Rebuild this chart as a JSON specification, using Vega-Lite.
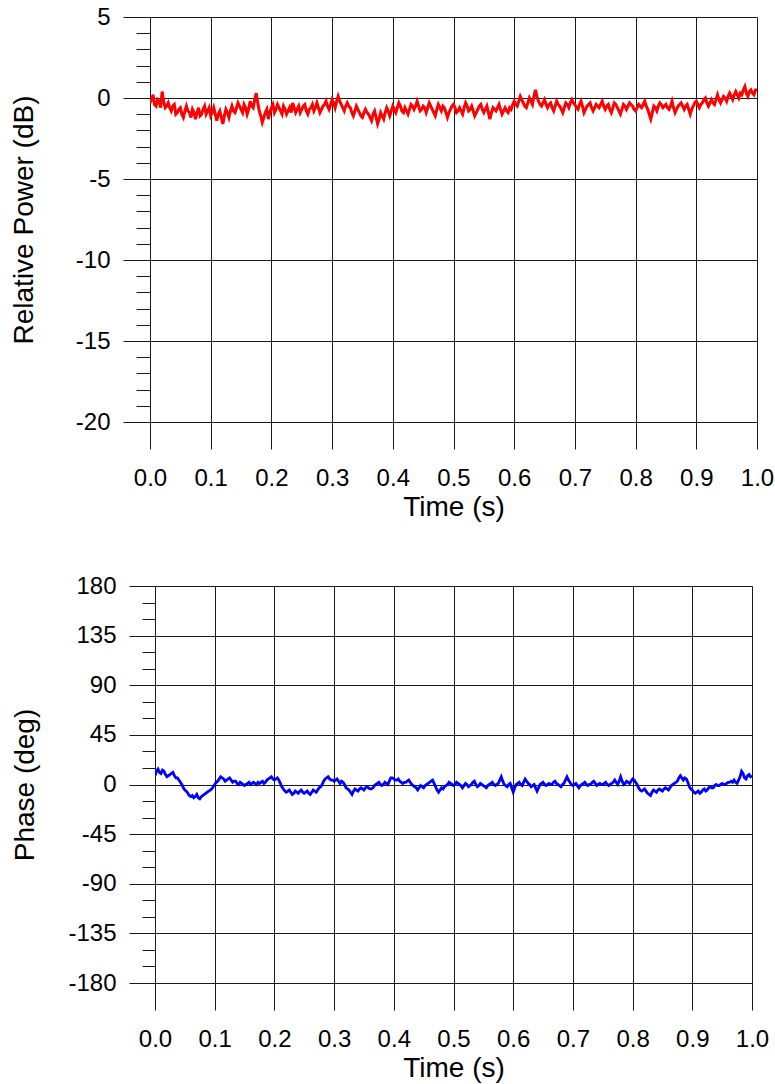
{
  "$schema": "https://vega.github.io/schema/vega-lite/v6.json",
  "padding": {"left": 10, "top": 5, "right": 0, "bottom": 5},
  "background": "white",
  "config": {
    "view": {"stroke": null},
    "font": "Liberation Sans",
    "axis": {
      "labelFont": "Liberation Sans",
      "titleFont": "Liberation Sans",
      "labelFontSize": 24,
      "titleFontSize": 28,
      "titleFontWeight": "normal",
      "labelColor": "#000000",
      "titleColor": "#000000",
      "domain": false,
      "grid": true,
      "gridColor": "#1a1a1a",
      "gridWidth": 1,
      "tickColor": "#1a1a1a",
      "tickWidth": 1,
      "labelOverlap": false,
      "labelFlush": false
    },
    "axisX": {"tickSize": 27, "labelPadding": 17, "titlePadding": 3},
    "axisY": {"labelPadding": 13}
  },
  "data": {
    "values": [
      {"t": 0, "db": -0.3, "deg": 8},
      {"t": 0.0025, "db": -0.1, "deg": 12},
      {"t": 0.005, "db": 0.2, "deg": 14},
      {"t": 0.0075, "db": -0.4, "deg": 11},
      {"t": 0.01, "db": -0.5, "deg": 10},
      {"t": 0.0125, "db": -0.1, "deg": 13},
      {"t": 0.015, "db": -0.2, "deg": 12},
      {"t": 0.0175, "db": -0.6, "deg": 9},
      {"t": 0.02, "db": 0.4, "deg": 7},
      {"t": 0.0225, "db": -0.2, "deg": 8},
      {"t": 0.025, "db": -0.6, "deg": 9},
      {"t": 0.0275, "db": -0.5, "deg": 10},
      {"t": 0.03, "db": -0.3, "deg": 11},
      {"t": 0.0325, "db": -0.6, "deg": 8},
      {"t": 0.035, "db": -0.8, "deg": 6},
      {"t": 0.0375, "db": -0.5, "deg": 6},
      {"t": 0.04, "db": -0.4, "deg": 4},
      {"t": 0.0425, "db": -1.0, "deg": 2},
      {"t": 0.045, "db": -0.9, "deg": 0},
      {"t": 0.0475, "db": -0.7, "deg": -3},
      {"t": 0.05, "db": -0.6, "deg": -5},
      {"t": 0.0525, "db": -1.0, "deg": -6},
      {"t": 0.055, "db": -1.2, "deg": -8},
      {"t": 0.0575, "db": -0.8, "deg": -10},
      {"t": 0.06, "db": -0.5, "deg": -11},
      {"t": 0.0625, "db": -0.8, "deg": -10},
      {"t": 0.065, "db": -0.9, "deg": -12},
      {"t": 0.0675, "db": -1.2, "deg": -11},
      {"t": 0.07, "db": -0.7, "deg": -9},
      {"t": 0.0725, "db": -0.9, "deg": -12},
      {"t": 0.075, "db": -1.3, "deg": -13},
      {"t": 0.0775, "db": -0.9, "deg": -11},
      {"t": 0.08, "db": -0.6, "deg": -10},
      {"t": 0.0825, "db": -1.1, "deg": -9},
      {"t": 0.085, "db": -1.0, "deg": -8},
      {"t": 0.0875, "db": -0.7, "deg": -7},
      {"t": 0.09, "db": -0.5, "deg": -6},
      {"t": 0.0925, "db": -1.0, "deg": -5},
      {"t": 0.095, "db": -0.8, "deg": -4},
      {"t": 0.0975, "db": -0.6, "deg": -2},
      {"t": 0.1, "db": -1.1, "deg": 0},
      {"t": 0.1025, "db": -0.9, "deg": 2},
      {"t": 0.105, "db": -0.6, "deg": 3},
      {"t": 0.1075, "db": -1.0, "deg": 5},
      {"t": 0.11, "db": -1.4, "deg": 7},
      {"t": 0.1125, "db": -1.0, "deg": 6},
      {"t": 0.115, "db": -0.8, "deg": 5},
      {"t": 0.1175, "db": -1.2, "deg": 3},
      {"t": 0.12, "db": -1.6, "deg": 4},
      {"t": 0.1225, "db": -1.1, "deg": 5},
      {"t": 0.125, "db": -0.7, "deg": 6},
      {"t": 0.1275, "db": -0.9, "deg": 4},
      {"t": 0.13, "db": -1.2, "deg": 2},
      {"t": 0.1325, "db": -0.8, "deg": 3},
      {"t": 0.135, "db": -0.5, "deg": 3},
      {"t": 0.1375, "db": -0.8, "deg": 1},
      {"t": 0.14, "db": -0.9, "deg": 0},
      {"t": 0.1425, "db": -0.6, "deg": 2},
      {"t": 0.145, "db": -0.3, "deg": 1},
      {"t": 0.1475, "db": -0.5, "deg": 0},
      {"t": 0.15, "db": -0.7, "deg": -1},
      {"t": 0.1525, "db": -0.9, "deg": 0},
      {"t": 0.155, "db": -0.4, "deg": 1},
      {"t": 0.1575, "db": -0.6, "deg": 2},
      {"t": 0.16, "db": -1.0, "deg": 0},
      {"t": 0.1625, "db": -0.7, "deg": 1},
      {"t": 0.165, "db": -0.2, "deg": 2},
      {"t": 0.1675, "db": -0.5, "deg": 1},
      {"t": 0.17, "db": -0.6, "deg": 0},
      {"t": 0.1725, "db": -0.1, "deg": 2},
      {"t": 0.175, "db": 0.3, "deg": 1},
      {"t": 0.1775, "db": -0.3, "deg": 2},
      {"t": 0.18, "db": -0.8, "deg": 3},
      {"t": 0.1825, "db": -1.1, "deg": 1},
      {"t": 0.185, "db": -1.5, "deg": 2},
      {"t": 0.1875, "db": -1.2, "deg": 4},
      {"t": 0.19, "db": -0.9, "deg": 5},
      {"t": 0.1925, "db": -0.7, "deg": 6},
      {"t": 0.195, "db": -1.3, "deg": 7},
      {"t": 0.1975, "db": -0.9, "deg": 5},
      {"t": 0.2, "db": -0.6, "deg": 4},
      {"t": 0.2025, "db": -0.4, "deg": 5},
      {"t": 0.205, "db": -0.9, "deg": 6},
      {"t": 0.2075, "db": -0.7, "deg": 4},
      {"t": 0.21, "db": -0.4, "deg": 1},
      {"t": 0.2125, "db": -0.6, "deg": -2},
      {"t": 0.215, "db": -0.8, "deg": -4},
      {"t": 0.2175, "db": -1.0, "deg": -6},
      {"t": 0.22, "db": -0.5, "deg": -7},
      {"t": 0.2225, "db": -0.7, "deg": -6},
      {"t": 0.225, "db": -1.0, "deg": -5},
      {"t": 0.2275, "db": -0.8, "deg": -7},
      {"t": 0.23, "db": -0.6, "deg": -9},
      {"t": 0.2325, "db": -0.9, "deg": -8},
      {"t": 0.235, "db": -0.3, "deg": -6},
      {"t": 0.2375, "db": -0.6, "deg": -7},
      {"t": 0.24, "db": -0.9, "deg": -8},
      {"t": 0.2425, "db": -0.7, "deg": -6},
      {"t": 0.245, "db": -0.5, "deg": -5},
      {"t": 0.2475, "db": -0.9, "deg": -7},
      {"t": 0.25, "db": -0.7, "deg": -8},
      {"t": 0.2525, "db": -0.5, "deg": -7},
      {"t": 0.255, "db": -0.4, "deg": -6},
      {"t": 0.2575, "db": -0.8, "deg": -8},
      {"t": 0.26, "db": -1.0, "deg": -9},
      {"t": 0.2625, "db": -0.7, "deg": -7},
      {"t": 0.265, "db": -0.6, "deg": -5},
      {"t": 0.2675, "db": -0.4, "deg": -6},
      {"t": 0.27, "db": -0.8, "deg": -7},
      {"t": 0.2725, "db": -0.6, "deg": -5},
      {"t": 0.275, "db": -0.3, "deg": -3},
      {"t": 0.2775, "db": -0.6, "deg": -2},
      {"t": 0.28, "db": -0.9, "deg": 0},
      {"t": 0.2825, "db": -0.7, "deg": 3},
      {"t": 0.285, "db": -0.5, "deg": 5},
      {"t": 0.2875, "db": -0.4, "deg": 6},
      {"t": 0.29, "db": -0.2, "deg": 7},
      {"t": 0.2925, "db": -0.5, "deg": 5},
      {"t": 0.295, "db": -0.7, "deg": 4},
      {"t": 0.2975, "db": -0.4, "deg": 4},
      {"t": 0.3, "db": -0.1, "deg": 3},
      {"t": 0.3025, "db": -0.3, "deg": 4},
      {"t": 0.305, "db": -0.6, "deg": 5},
      {"t": 0.3075, "db": -0.2, "deg": 3},
      {"t": 0.31, "db": 0.1, "deg": 1},
      {"t": 0.3125, "db": -0.2, "deg": 3},
      {"t": 0.315, "db": -0.4, "deg": 2},
      {"t": 0.3175, "db": -0.6, "deg": 0},
      {"t": 0.32, "db": -0.8, "deg": -3},
      {"t": 0.3225, "db": -0.5, "deg": -4},
      {"t": 0.325, "db": -0.3, "deg": -5},
      {"t": 0.3275, "db": -0.5, "deg": -7},
      {"t": 0.33, "db": -0.6, "deg": -9},
      {"t": 0.3325, "db": -0.9, "deg": -6},
      {"t": 0.335, "db": -1.1, "deg": -4},
      {"t": 0.3375, "db": -0.8, "deg": -5},
      {"t": 0.34, "db": -0.5, "deg": -6},
      {"t": 0.3425, "db": -0.7, "deg": -4},
      {"t": 0.345, "db": -0.9, "deg": -3},
      {"t": 0.3475, "db": -1.1, "deg": -4},
      {"t": 0.35, "db": -1.2, "deg": -5},
      {"t": 0.3525, "db": -0.9, "deg": -3},
      {"t": 0.355, "db": -0.7, "deg": -2},
      {"t": 0.3575, "db": -0.9, "deg": -3},
      {"t": 0.36, "db": -1.0, "deg": -4},
      {"t": 0.3625, "db": -1.2, "deg": -4},
      {"t": 0.365, "db": -1.4, "deg": -3},
      {"t": 0.3675, "db": -1.0, "deg": -1},
      {"t": 0.37, "db": -0.8, "deg": 0},
      {"t": 0.3725, "db": -1.2, "deg": 1},
      {"t": 0.375, "db": -1.6, "deg": 2},
      {"t": 0.3775, "db": -1.3, "deg": 0},
      {"t": 0.38, "db": -0.9, "deg": -1},
      {"t": 0.3825, "db": -1.1, "deg": 0},
      {"t": 0.385, "db": -1.3, "deg": 2},
      {"t": 0.3875, "db": -0.9, "deg": 1},
      {"t": 0.39, "db": -0.6, "deg": 0},
      {"t": 0.3925, "db": -0.8, "deg": 3},
      {"t": 0.395, "db": -1.1, "deg": 6},
      {"t": 0.3975, "db": -0.8, "deg": 6},
      {"t": 0.4, "db": -0.5, "deg": 5},
      {"t": 0.4025, "db": -0.7, "deg": 4},
      {"t": 0.405, "db": -0.9, "deg": 4},
      {"t": 0.4075, "db": -0.6, "deg": 5},
      {"t": 0.41, "db": -0.3, "deg": 3},
      {"t": 0.4125, "db": -0.5, "deg": 2},
      {"t": 0.415, "db": -0.8, "deg": 1},
      {"t": 0.4175, "db": -0.9, "deg": 2},
      {"t": 0.42, "db": -0.6, "deg": 2},
      {"t": 0.4225, "db": -0.8, "deg": 3},
      {"t": 0.425, "db": -1.0, "deg": 4},
      {"t": 0.4275, "db": -0.7, "deg": 2},
      {"t": 0.43, "db": -0.4, "deg": 0},
      {"t": 0.4325, "db": -0.5, "deg": -1},
      {"t": 0.435, "db": -0.7, "deg": -2},
      {"t": 0.4375, "db": -0.5, "deg": -3},
      {"t": 0.44, "db": -0.2, "deg": -5},
      {"t": 0.4425, "db": -0.5, "deg": -3},
      {"t": 0.445, "db": -0.8, "deg": -1},
      {"t": 0.4475, "db": -0.7, "deg": -2},
      {"t": 0.45, "db": -0.5, "deg": -3},
      {"t": 0.4525, "db": -0.6, "deg": -1},
      {"t": 0.455, "db": -0.9, "deg": 0},
      {"t": 0.4575, "db": -0.6, "deg": 1},
      {"t": 0.46, "db": -0.3, "deg": 2},
      {"t": 0.4625, "db": -0.5, "deg": 3},
      {"t": 0.465, "db": -0.7, "deg": 4},
      {"t": 0.4675, "db": -0.9, "deg": 1},
      {"t": 0.47, "db": -1.1, "deg": -2},
      {"t": 0.4725, "db": -0.7, "deg": -5},
      {"t": 0.475, "db": -0.4, "deg": -7},
      {"t": 0.4775, "db": -0.6, "deg": -5},
      {"t": 0.48, "db": -0.8, "deg": -3},
      {"t": 0.4825, "db": -0.5, "deg": -4},
      {"t": 0.485, "db": -0.6, "deg": -2},
      {"t": 0.4875, "db": -0.9, "deg": -1},
      {"t": 0.49, "db": -1.2, "deg": 0},
      {"t": 0.4925, "db": -0.9, "deg": 2},
      {"t": 0.495, "db": -0.7, "deg": 1},
      {"t": 0.4975, "db": -0.5, "deg": 0},
      {"t": 0.5, "db": -0.4, "deg": -1},
      {"t": 0.5025, "db": -0.6, "deg": 0},
      {"t": 0.505, "db": -0.9, "deg": 2},
      {"t": 0.5075, "db": -0.8, "deg": 1},
      {"t": 0.51, "db": -0.6, "deg": 0},
      {"t": 0.5125, "db": -0.8, "deg": -1},
      {"t": 0.515, "db": -1.0, "deg": -3},
      {"t": 0.5175, "db": -0.6, "deg": -1},
      {"t": 0.52, "db": -0.3, "deg": 1},
      {"t": 0.5225, "db": -0.5, "deg": 0},
      {"t": 0.525, "db": -0.8, "deg": -2},
      {"t": 0.5275, "db": -0.7, "deg": -1},
      {"t": 0.53, "db": -0.5, "deg": 0},
      {"t": 0.5325, "db": -0.8, "deg": 2},
      {"t": 0.535, "db": -1.1, "deg": 3},
      {"t": 0.5375, "db": -0.9, "deg": 0},
      {"t": 0.54, "db": -0.7, "deg": -2},
      {"t": 0.5425, "db": -0.5, "deg": -1},
      {"t": 0.545, "db": -0.4, "deg": 1},
      {"t": 0.5475, "db": -0.7, "deg": 0},
      {"t": 0.55, "db": -0.9, "deg": -1},
      {"t": 0.5525, "db": -0.7, "deg": -2},
      {"t": 0.555, "db": -0.5, "deg": -3},
      {"t": 0.5575, "db": -0.9, "deg": -1},
      {"t": 0.56, "db": -1.3, "deg": 0},
      {"t": 0.5625, "db": -0.9, "deg": 1},
      {"t": 0.565, "db": -0.6, "deg": 2},
      {"t": 0.5675, "db": -0.7, "deg": 0},
      {"t": 0.57, "db": -0.8, "deg": -1},
      {"t": 0.5725, "db": -0.6, "deg": 0},
      {"t": 0.575, "db": -0.4, "deg": 1},
      {"t": 0.5775, "db": -0.7, "deg": 4},
      {"t": 0.58, "db": -1.0, "deg": 7},
      {"t": 0.5825, "db": -0.8, "deg": 3},
      {"t": 0.585, "db": -0.6, "deg": 0},
      {"t": 0.5875, "db": -0.8, "deg": -1},
      {"t": 0.59, "db": -0.9, "deg": -2},
      {"t": 0.5925, "db": -0.6, "deg": 0},
      {"t": 0.595, "db": -0.7, "deg": 1},
      {"t": 0.5975, "db": -0.4, "deg": -3},
      {"t": 0.6, "db": -0.2, "deg": -7},
      {"t": 0.6025, "db": -0.4, "deg": -3},
      {"t": 0.605, "db": -0.5, "deg": 0},
      {"t": 0.6075, "db": -0.2, "deg": 1},
      {"t": 0.61, "db": 0.1, "deg": 2},
      {"t": 0.6125, "db": -0.1, "deg": 0},
      {"t": 0.615, "db": -0.3, "deg": -1},
      {"t": 0.6175, "db": -0.5, "deg": 2},
      {"t": 0.62, "db": -0.6, "deg": 5},
      {"t": 0.6225, "db": -0.3, "deg": 3},
      {"t": 0.625, "db": 0.0, "deg": 1},
      {"t": 0.6275, "db": -0.2, "deg": 0},
      {"t": 0.63, "db": -0.4, "deg": -2},
      {"t": 0.6325, "db": 0.1, "deg": -1},
      {"t": 0.635, "db": 0.5, "deg": 0},
      {"t": 0.6375, "db": 0.1, "deg": -3},
      {"t": 0.64, "db": -0.2, "deg": -6},
      {"t": 0.6425, "db": -0.4, "deg": -3},
      {"t": 0.645, "db": -0.5, "deg": 0},
      {"t": 0.6475, "db": -0.3, "deg": 1},
      {"t": 0.65, "db": -0.1, "deg": 2},
      {"t": 0.6525, "db": -0.4, "deg": 0},
      {"t": 0.655, "db": -0.6, "deg": -1},
      {"t": 0.6575, "db": -0.4, "deg": 0},
      {"t": 0.66, "db": -0.3, "deg": 1},
      {"t": 0.6625, "db": -0.6, "deg": 0},
      {"t": 0.665, "db": -0.8, "deg": 0},
      {"t": 0.6675, "db": -0.5, "deg": 2},
      {"t": 0.67, "db": -0.2, "deg": 3},
      {"t": 0.6725, "db": -0.4, "deg": 1},
      {"t": 0.675, "db": -0.5, "deg": 0},
      {"t": 0.6775, "db": -0.7, "deg": -1},
      {"t": 0.68, "db": -0.9, "deg": -2},
      {"t": 0.6825, "db": -0.6, "deg": 0},
      {"t": 0.685, "db": -0.3, "deg": 1},
      {"t": 0.6875, "db": -0.4, "deg": 4},
      {"t": 0.69, "db": -0.6, "deg": 7},
      {"t": 0.6925, "db": -0.3, "deg": 4},
      {"t": 0.695, "db": -0.1, "deg": 2},
      {"t": 0.6975, "db": -0.3, "deg": 0},
      {"t": 0.7, "db": -0.4, "deg": -1},
      {"t": 0.7025, "db": -0.6, "deg": 0},
      {"t": 0.705, "db": -0.7, "deg": 1},
      {"t": 0.7075, "db": -0.4, "deg": -1},
      {"t": 0.71, "db": -0.2, "deg": -3},
      {"t": 0.7125, "db": -0.5, "deg": -1},
      {"t": 0.715, "db": -0.9, "deg": 0},
      {"t": 0.7175, "db": -0.7, "deg": 1},
      {"t": 0.72, "db": -0.5, "deg": 2},
      {"t": 0.7225, "db": -0.4, "deg": 0},
      {"t": 0.725, "db": -0.3, "deg": -1},
      {"t": 0.7275, "db": -0.6, "deg": 0},
      {"t": 0.73, "db": -0.8, "deg": 0},
      {"t": 0.7325, "db": -0.6, "deg": 2},
      {"t": 0.735, "db": -0.4, "deg": 3},
      {"t": 0.7375, "db": -0.5, "deg": 1},
      {"t": 0.74, "db": -0.6, "deg": -1},
      {"t": 0.7425, "db": -0.4, "deg": 0},
      {"t": 0.745, "db": -0.2, "deg": 1},
      {"t": 0.7475, "db": -0.5, "deg": 0},
      {"t": 0.75, "db": -0.7, "deg": 0},
      {"t": 0.7525, "db": -0.5, "deg": 1},
      {"t": 0.755, "db": -0.4, "deg": 2},
      {"t": 0.7575, "db": -0.7, "deg": 0},
      {"t": 0.76, "db": -0.9, "deg": -1},
      {"t": 0.7625, "db": -0.6, "deg": 0},
      {"t": 0.765, "db": -0.3, "deg": 1},
      {"t": 0.7675, "db": -0.4, "deg": 2},
      {"t": 0.77, "db": -0.6, "deg": 4},
      {"t": 0.7725, "db": -0.8, "deg": 2},
      {"t": 0.775, "db": -1.0, "deg": 0},
      {"t": 0.7775, "db": -0.7, "deg": 3},
      {"t": 0.78, "db": -0.4, "deg": 7},
      {"t": 0.7825, "db": -0.5, "deg": 3},
      {"t": 0.785, "db": -0.7, "deg": 0},
      {"t": 0.7875, "db": -0.5, "deg": 1},
      {"t": 0.79, "db": -0.3, "deg": 3},
      {"t": 0.7925, "db": -0.4, "deg": 2},
      {"t": 0.795, "db": -0.5, "deg": 1},
      {"t": 0.7975, "db": -0.7, "deg": 3},
      {"t": 0.8, "db": -0.8, "deg": 5},
      {"t": 0.8025, "db": -0.6, "deg": 4},
      {"t": 0.805, "db": -0.4, "deg": 2},
      {"t": 0.8075, "db": -0.5, "deg": 0},
      {"t": 0.81, "db": -0.6, "deg": -3},
      {"t": 0.8125, "db": -0.4, "deg": -5},
      {"t": 0.815, "db": -0.2, "deg": -6},
      {"t": 0.8175, "db": -0.5, "deg": -5},
      {"t": 0.82, "db": -0.7, "deg": -4},
      {"t": 0.8225, "db": -1.0, "deg": -6},
      {"t": 0.825, "db": -1.3, "deg": -8},
      {"t": 0.8275, "db": -0.9, "deg": -9},
      {"t": 0.83, "db": -0.5, "deg": -10},
      {"t": 0.8325, "db": -0.6, "deg": -7},
      {"t": 0.835, "db": -0.8, "deg": -5},
      {"t": 0.8375, "db": -0.5, "deg": -6},
      {"t": 0.84, "db": -0.3, "deg": -7},
      {"t": 0.8425, "db": -0.4, "deg": -5},
      {"t": 0.845, "db": -0.6, "deg": -4},
      {"t": 0.8475, "db": -0.5, "deg": -5},
      {"t": 0.85, "db": -0.4, "deg": -6},
      {"t": 0.8525, "db": -0.6, "deg": -4},
      {"t": 0.855, "db": -0.7, "deg": -3},
      {"t": 0.8575, "db": -0.5, "deg": -4},
      {"t": 0.86, "db": -0.2, "deg": -5},
      {"t": 0.8625, "db": -0.6, "deg": -3},
      {"t": 0.865, "db": -0.9, "deg": -1},
      {"t": 0.8675, "db": -0.7, "deg": 0},
      {"t": 0.87, "db": -0.5, "deg": 1},
      {"t": 0.8725, "db": -0.4, "deg": 2},
      {"t": 0.875, "db": -0.3, "deg": 3},
      {"t": 0.8775, "db": -0.5, "deg": 6},
      {"t": 0.88, "db": -0.7, "deg": 8},
      {"t": 0.8825, "db": -0.5, "deg": 6},
      {"t": 0.885, "db": -0.4, "deg": 4},
      {"t": 0.8875, "db": -0.7, "deg": 6},
      {"t": 0.89, "db": -1.0, "deg": 5},
      {"t": 0.8925, "db": -0.7, "deg": 2},
      {"t": 0.895, "db": -0.5, "deg": -2},
      {"t": 0.8975, "db": -0.3, "deg": -4},
      {"t": 0.9, "db": -0.2, "deg": -5},
      {"t": 0.9025, "db": -0.4, "deg": -7},
      {"t": 0.905, "db": -0.6, "deg": -8},
      {"t": 0.9075, "db": -0.4, "deg": -7},
      {"t": 0.91, "db": -0.3, "deg": -6},
      {"t": 0.9125, "db": -0.1, "deg": -8},
      {"t": 0.915, "db": 0.0, "deg": -7},
      {"t": 0.9175, "db": -0.3, "deg": -5},
      {"t": 0.92, "db": -0.5, "deg": -4},
      {"t": 0.9225, "db": -0.3, "deg": -6},
      {"t": 0.925, "db": -0.1, "deg": -5},
      {"t": 0.9275, "db": -0.3, "deg": -3},
      {"t": 0.93, "db": -0.4, "deg": -2},
      {"t": 0.9325, "db": -0.1, "deg": -3},
      {"t": 0.935, "db": 0.2, "deg": -3},
      {"t": 0.9375, "db": -0.1, "deg": -1},
      {"t": 0.94, "db": -0.3, "deg": 0},
      {"t": 0.9425, "db": -0.1, "deg": -1},
      {"t": 0.945, "db": 0.1, "deg": -1},
      {"t": 0.9475, "db": 0.0, "deg": 0},
      {"t": 0.95, "db": -0.2, "deg": 1},
      {"t": 0.9525, "db": 0.1, "deg": 0},
      {"t": 0.955, "db": 0.3, "deg": 0},
      {"t": 0.9575, "db": 0.1, "deg": 1},
      {"t": 0.96, "db": -0.1, "deg": 2},
      {"t": 0.9625, "db": 0.2, "deg": 2},
      {"t": 0.965, "db": 0.4, "deg": 3},
      {"t": 0.9675, "db": 0.2, "deg": 2},
      {"t": 0.97, "db": 0.0, "deg": 4},
      {"t": 0.9725, "db": 0.3, "deg": 2},
      {"t": 0.975, "db": 0.2, "deg": 1},
      {"t": 0.9775, "db": 0.5, "deg": 4},
      {"t": 0.98, "db": 0.7, "deg": 7},
      {"t": 0.9825, "db": 0.3, "deg": 12},
      {"t": 0.985, "db": 0.1, "deg": 10},
      {"t": 0.9875, "db": 0.4, "deg": 6},
      {"t": 0.99, "db": 0.5, "deg": 5},
      {"t": 0.9925, "db": 0.3, "deg": 8},
      {"t": 0.995, "db": 0.2, "deg": 9},
      {"t": 0.9975, "db": 0.5, "deg": 7},
      {"t": 1, "db": 0.5, "deg": 8}
    ]
  },
  "bounds": "flush",
  "center": true,
  "spacing": 164,
  "vconcat": [
    {
      "width": 607,
      "height": 405,
      "mark": {"type": "line", "color": "#ff0000", "strokeWidth": 3, "clip": true},
      "encoding": {
        "x": {
          "field": "t",
          "type": "quantitative",
          "scale": {"domain": [0, 1], "nice": false},
          "axis": {
            "title": "Time (s)",
            "values": [0, 0.1, 0.2, 0.3, 0.4, 0.5, 0.6, 0.7, 0.8, 0.9, 1],
            "format": ".1f"
          }
        },
        "y": {
          "field": "db",
          "type": "quantitative",
          "scale": {"domain": [-20, 5], "nice": false, "zero": false},
          "axis": {
            "title": "Relative Power (dB)",
            "titlePadding": 37,
            "values": [-20, -19, -18, -17, -16, -15, -14, -13, -12, -11, -10, -9, -8, -7, -6, -5, -4, -3, -2, -1, 0, 1, 2, 3, 4, 5],
            "labelExpr": "datum.value % 5 === 0 ? '' + datum.value : ''",
            "tickSize": {"condition": {"test": "datum.value % 5 === 0", "value": 27}, "value": 14},
            "gridOpacity": {"condition": {"test": "datum.value % 5 === 0", "value": 1}, "value": 0}
          }
        }
      }
    },
    {
      "width": 597,
      "height": 397,
      "mark": {"type": "line", "color": "#0000ff", "strokeWidth": 2.8, "clip": true},
      "encoding": {
        "x": {
          "field": "t",
          "type": "quantitative",
          "scale": {"domain": [0, 1], "nice": false},
          "axis": {
            "title": "Time (s)",
            "values": [0, 0.1, 0.2, 0.3, 0.4, 0.5, 0.6, 0.7, 0.8, 0.9, 1],
            "format": ".1f"
          }
        },
        "y": {
          "field": "deg",
          "type": "quantitative",
          "scale": {"domain": [-180, 180], "nice": false, "zero": false},
          "axis": {
            "title": "Phase (deg)",
            "titlePadding": 28,
            "values": [-180, -165, -150, -135, -120, -105, -90, -75, -60, -45, -30, -15, 0, 15, 30, 45, 60, 75, 90, 105, 120, 135, 150, 165, 180],
            "labelExpr": "datum.value % 45 === 0 ? '' + datum.value : ''",
            "tickSize": {"condition": {"test": "datum.value % 45 === 0", "value": 26}, "value": 13},
            "gridOpacity": {"condition": {"test": "datum.value % 45 === 0", "value": 1}, "value": 0}
          }
        }
      }
    }
  ]
}
